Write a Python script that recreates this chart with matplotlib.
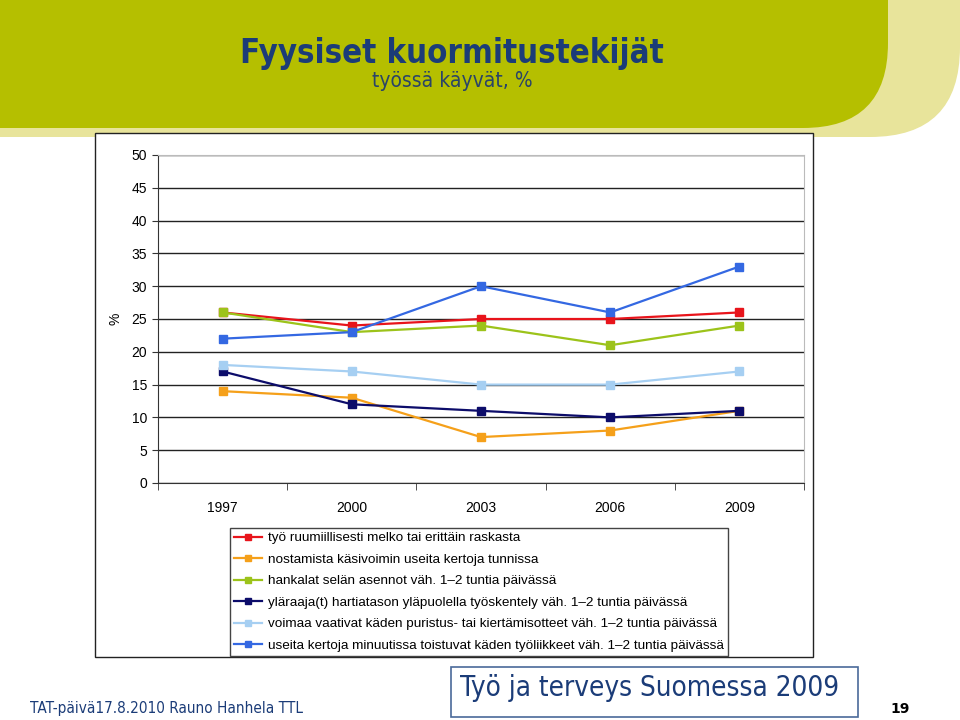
import numpy as np
import matplotlib
matplotlib.use('Agg')
import matplotlib.pyplot as plt
from matplotlib.patches import FancyBboxPatch, Rectangle

# data
years = ['1997', '2000', '2003', '2006', '2009']
raskas = [26, 24, 25, 25, 26]
nostaminen = [14, 13, 7, 8, 11]
selka = [26, 23, 24, 21, 24]
ylaraaja = [17, 12, 11, 10, 11]
puristus = [18, 17, 15, 15, 17]
toisto = [22, 23, 30, 26, 33]

labels = [
    'työ ruumiillisesti melko tai erittäin raskasta',
    'nostamista käsivoimin useita kertoja tunnissa',
    'hankalat selän asennot väh. 1\u20132 tuntia päivässä',
    'yläraaja(t) hartiatason yläpuolella työskentely väh. 1\u20132 tuntia päivässä',
    'voimaa vaativat käden puristus- tai kiertämisotteet väh. 1\u20132 tuntia päivässä',
    'useita kertoja minuutissa toistuvat käden työliikkeet väh. 1\u20132 tuntia päivässä',
]
series = [raskas, nostaminen, selka, ylaraaja, puristus, toisto]
colors = ['#E8141B', '#F5A01A', '#9CC31A', '#0C0C6A', '#A6CFF2', '#3468E2']

W, H = 960, 720
fig = plt.figure(figsize=(9.6, 7.2), dpi=100)

# background / slide decoration in pixel coords
bg = fig.add_axes([0, 0, 1, 1])
bg.set_xlim(0, W)
bg.set_ylim(H, 0)
bg.axis('off')
bg.add_patch(FancyBboxPatch((-300, -300), 300 + 960, 300 + 137,
                            boxstyle='round,pad=0,rounding_size=90',
                            fc='#E8E49B', ec='none'))
bg.add_patch(FancyBboxPatch((-300, -300), 300 + 888, 300 + 128,
                            boxstyle='round,pad=0,rounding_size=85',
                            fc='#B5BF00', ec='none'))
bg.text(452, 54, 'Fyysiset kuormitustekijät', ha='center', va='center',
        fontsize=23.7, fontweight='bold', color='#1B3C78',
        family='DejaVu Sans', fontstretch='condensed')
bg.text(452, 81, 'työssä käyvät, %', ha='center', va='center',
        fontsize=15, color='#2A4468', family='DejaVu Sans', fontstretch='condensed')
# chart frame
bg.add_patch(Rectangle((95, 133), 813 - 95, 657 - 133, fc='white', ec='#222222', lw=1))
# footer
bg.text(30, 709, 'TAT-päivä17.8.2010 Rauno Hanhela TTL', ha='left', va='center',
        fontsize=11, color='#1B3C78', family='DejaVu Sans', fontstretch='condensed')
bg.add_patch(Rectangle((451, 667), 858 - 451, 717 - 667, fc='white', ec='#4A6A9A', lw=1.2))
bg.text(650, 688, 'Työ ja terveys Suomessa 2009', ha='center', va='center',
        fontsize=20, color='#1B3C78', family='DejaVu Sans', fontstretch='condensed')
bg.text(900, 709, '19', ha='center', va='center', fontsize=10,
        fontweight='bold', color='black', family='DejaVu Sans')

# chart axes
left, right, top, bottom = 158, 804, 155, 483
ax = fig.add_axes([left / W, 1 - bottom / H, (right - left) / W, (bottom - top) / H])
x = np.arange(len(years))
for vals, col, lab in zip(series, colors, labels):
    ax.plot(x, vals, color=col, lw=1.6, marker='s', ms=5.5, label=lab)

ax.set_xlim(-0.5, len(years) - 0.5)
ax.set_ylim(0, 50)
ax.set_yticks(np.arange(0, 51, 5))
ax.yaxis.grid(True, color='#222222', lw=1)
ax.set_axisbelow(True)
ax.set_xticks(x)
ax.set_xticklabels(years)
ax.set_xticks(np.arange(-0.5, len(years), 1), minor=True)
ax.tick_params(axis='x', which='major', length=0, pad=13)
ax.tick_params(axis='x', which='minor', length=5, direction='out', color='#333333')
ax.tick_params(axis='y', length=4, direction='out', color='#333333', pad=4)
for lab in ax.get_xticklabels() + ax.get_yticklabels():
    lab.set_fontfamily('Liberation Sans')
    lab.set_fontsize(10)
ax.spines['left'].set_color('#333333')
ax.spines['bottom'].set_color('#333333')
ax.spines['top'].set_color('#BBBBBB')
ax.spines['right'].set_color('#BBBBBB')
ax.set_ylabel('%', fontsize=10, family='Liberation Sans', labelpad=6)

leg = ax.legend(loc='upper left', bbox_to_anchor=(230 / W, 1 - 528 / H),
                bbox_transform=fig.transFigure, frameon=True, fancybox=False,
                edgecolor='#444444', framealpha=1,
                prop={'family': 'Liberation Sans', 'size': 9.7},
                handlelength=2.1, handletextpad=0.45, labelspacing=0.67,
                borderpad=0.3, borderaxespad=0, markerscale=0.85)
leg.get_frame().set_linewidth(1)

fig.savefig('out.png', dpi=100)
